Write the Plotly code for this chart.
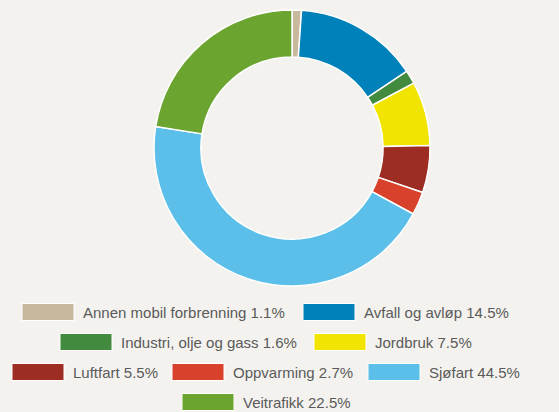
import plotly.graph_objects as go

categories = ["Annen mobil forbrenning", "Avfall og avløp", "Industri, olje og gass",
              "Jordbruk", "Luftfart", "Oppvarming", "Sjøfart", "Veitrafikk"]
values = [1.1, 14.5, 1.6, 7.5, 5.5, 2.7, 44.5, 22.5]
colors = ["#c8b89e", "#0081b9", "#428a3e", "#f0e400", "#9d2d22", "#d8412b", "#5bbfe9", "#6ba530"]

OFF = 8  # page body margin
W, H = 559 - OFF, 412 - OFF
BG = "#f4f2ee"


def px(x):
    return (x - OFF) / W


def py(y):
    return 1 - (y - OFF) / H


fig = go.Figure(go.Pie(
    labels=categories, values=values, hole=0.66, sort=False, direction="clockwise",
    rotation=0, textinfo="none", hoverinfo="label+percent",
    marker=dict(colors=colors, line=dict(color="white", width=1.5)),
    domain=dict(x=[px(154), px(430)], y=[py(286), py(10)]),
    showlegend=False,
))

rows = [([0, 1], [22, 303], 312),
        ([2, 3], [60, 314], 342),
        ([4, 5, 6], [12, 172, 368], 372),
        ([7], [182], 402)]
sw_w, sw_h = 52, 17
shapes, annotations = [], []
for idx, xs, yc in rows:
    for i, x0 in zip(idx, xs):
        shapes.append(dict(type="rect", xref="paper", yref="paper",
                           x0=px(x0), x1=px(x0 + sw_w),
                           y0=py(yc + sw_h / 2), y1=py(yc - sw_h / 2),
                           fillcolor=colors[i], line=dict(color="white", width=1)))
        annotations.append(dict(xref="paper", yref="paper", x=px(x0 + sw_w + 7),
                                y=py(yc), xanchor="left", yanchor="middle",
                                text=f"{categories[i]} {values[i]}%", showarrow=False,
                                font=dict(family="Liberation Sans, Arial, sans-serif",
                                          size=15, color="#5a5a5a")))

fig.update_layout(width=W, height=H, margin=dict(l=0, r=0, t=0, b=0),
                  paper_bgcolor=BG, plot_bgcolor=BG,
                  shapes=shapes, annotations=annotations)
fig.write_html("out.html",
               post_script="document.body.style.background='%s';"
                           "document.documentElement.style.background='%s';" % (BG, BG))
